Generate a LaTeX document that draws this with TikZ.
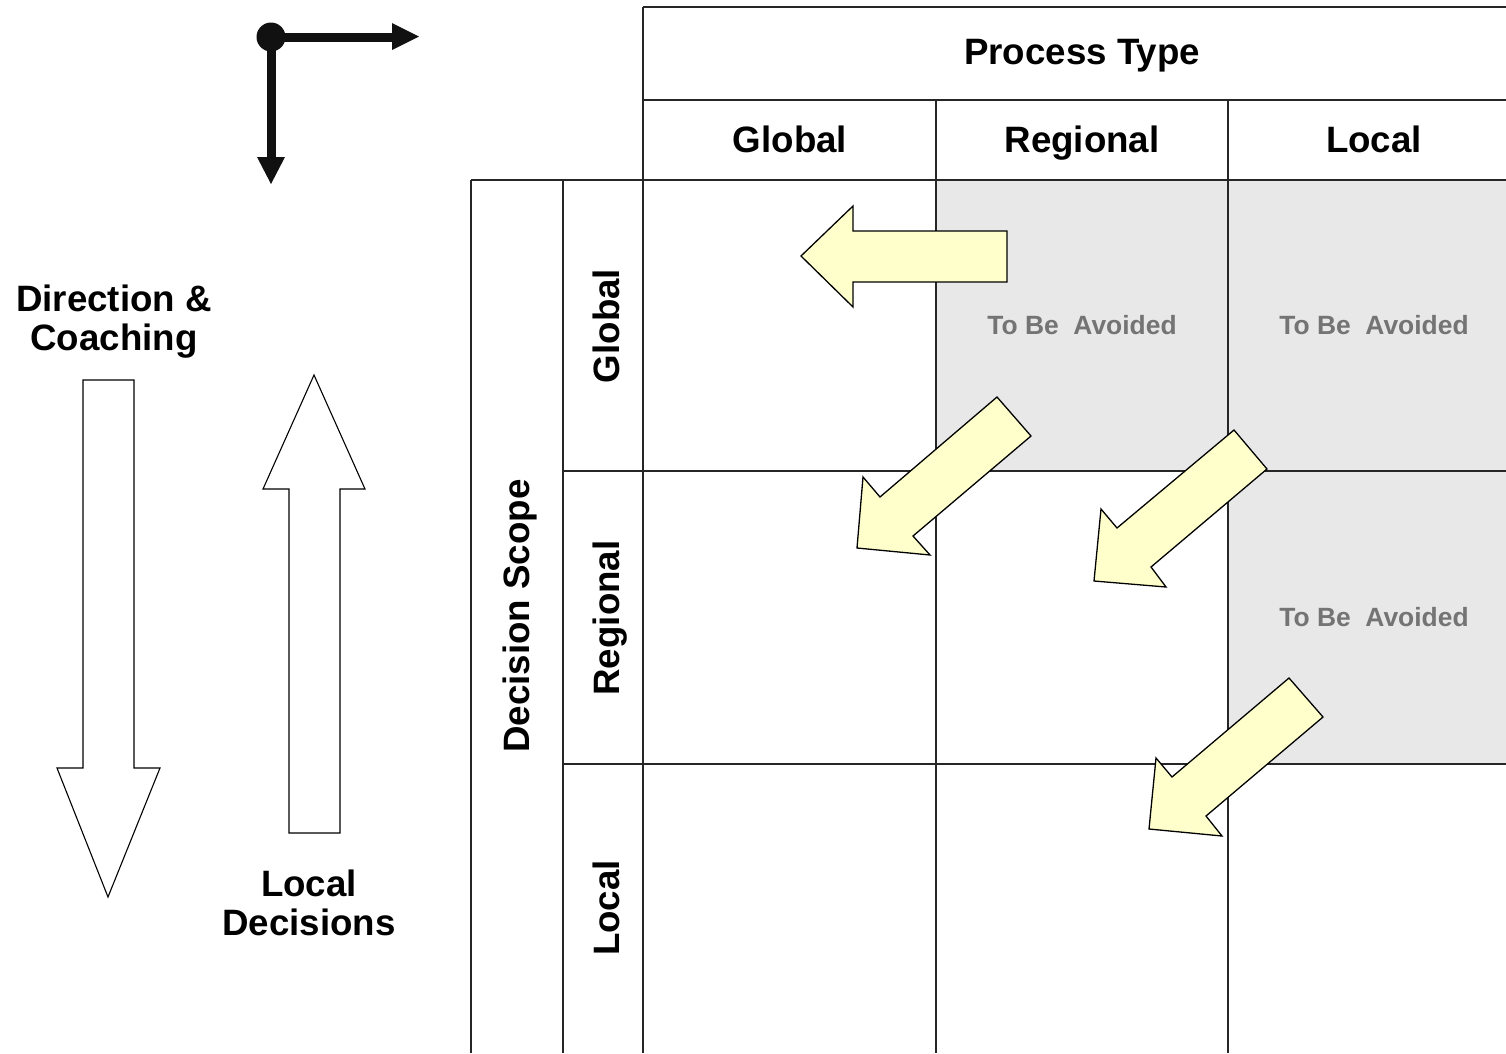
\documentclass[tikz,border=0pt]{standalone}
\usepackage{fontspec}
\setmainfont{Liberation Sans}
\definecolor{avoidfill}{HTML}{E8E8E8}
\definecolor{avoidtext}{HTML}{747474}
\definecolor{hintfill}{HTML}{FFFFCC}
\definecolor{iconink}{HTML}{111111}
\begin{document}
\begin{tikzpicture}[x=1pt,y=-1pt,
  grid/.style={line width=1.6pt, draw=black!85},
  big/.style={font=\fontsize{36.7}{39}\selectfont\bfseries, inner sep=0pt, align=center},
  avoid/.style={font=\fontsize{26.4}{30}\selectfont\bfseries, text=avoidtext, inner sep=0pt},
  hint/.style={fill=hintfill, draw=black, line width=1.3pt, line join=miter},
  flow/.style={fill=white, draw=black, line width=1.1pt, line join=miter},
  icon/.style={line width=9pt, draw=iconink}]
\useasboundingbox (0,0) rectangle (1506,1053);

% shaded cells that should be avoided
\fill[avoidfill] (936,180) rectangle (1228,471);
\fill[avoidfill] (1228,180) rectangle (1506,471);
\fill[avoidfill] (1228,471) rectangle (1506,764);

% table rules
\draw[grid] (643,7) -- (1506,7);
\draw[grid] (643,100) -- (1506,100);
\draw[grid] (471,180) -- (1506,180);
\draw[grid] (563,471) -- (1506,471);
\draw[grid] (563,764) -- (1506,764);
\draw[grid] (471,180) -- (471,1053);
\draw[grid] (563,180) -- (563,1053);
\draw[grid] (643,7) -- (643,1053);
\draw[grid] (936,100) -- (936,1053);
\draw[grid] (1228,100) -- (1228,1053);

% column headings
\node[big, anchor=base] (ptype) at (1082,64) {Process Type};
\node[big, anchor=base] (colG) at (790,152) {Global};
\node[big, anchor=base] (colR) at (1082,152) {Regional};
\node[big, anchor=base] (colL) at (1374,152) {Local};

% row headings
\node[big, anchor=base, rotate=90] (dscope) at (529,616) {Decision Scope};
\node[big, anchor=base, rotate=90] (rowG) at (619,326) {Global};
\node[big, anchor=base, rotate=90] (rowR) at (619,618) {Regional};
\node[big, anchor=base, rotate=90] (rowL) at (619,908) {Local};

% cells to be avoided
\node[avoid, anchor=base] (avRG) at (1082,334) {To Be\ \ Avoided};
\node[avoid, anchor=base] (avLG) at (1374,334) {To Be\ \ Avoided};
\node[avoid, anchor=base] (avLR) at (1374,626) {To Be\ \ Avoided};

% recommended moves between cells
\draw[hint] (801,256) -- (853,206) -- (853,231) -- (1007,231) -- (1007,282)
  -- (853,282) -- (853,307) -- cycle;
\draw[hint] (857,548) -- (863,477) -- (880,497) -- (997,397) -- (1031,436)
  -- (913,536) -- (930,555) -- cycle;
\draw[hint] (1094,581) -- (1101,509) -- (1117,528) -- (1234,430) -- (1267,469)
  -- (1151,567) -- (1166,587) -- cycle;
\draw[hint] (1149,829) -- (1156,758) -- (1172,777) -- (1289,678) -- (1323,717)
  -- (1206,816) -- (1222,836) -- cycle;

% axes icon
\draw[icon] (271,37) -- (393,37);
\draw[icon] (271,37) -- (271,158);
\fill[iconink] (271,37) circle (14.5);
\fill[iconink] (392,23) -- (419,36.5) -- (392,50) -- cycle;
\fill[iconink] (257,157) -- (285,157) -- (271,184) -- cycle;

% direction arrows and labels
\draw[flow] (83,380) -- (134,380) -- (134,768) -- (160,768) -- (108,897)
  -- (57,768) -- (83,768) -- cycle;
\draw[flow] (314,375) -- (365,489) -- (340,489) -- (340,833) -- (289,833)
  -- (289,489) -- (263,489) -- cycle;
\node[big] (coach) at (114,322) {Direction \&\\Coaching};
\node[big] (local) at (309,903) {Local\\Decisions};
\end{tikzpicture}
\end{document}
